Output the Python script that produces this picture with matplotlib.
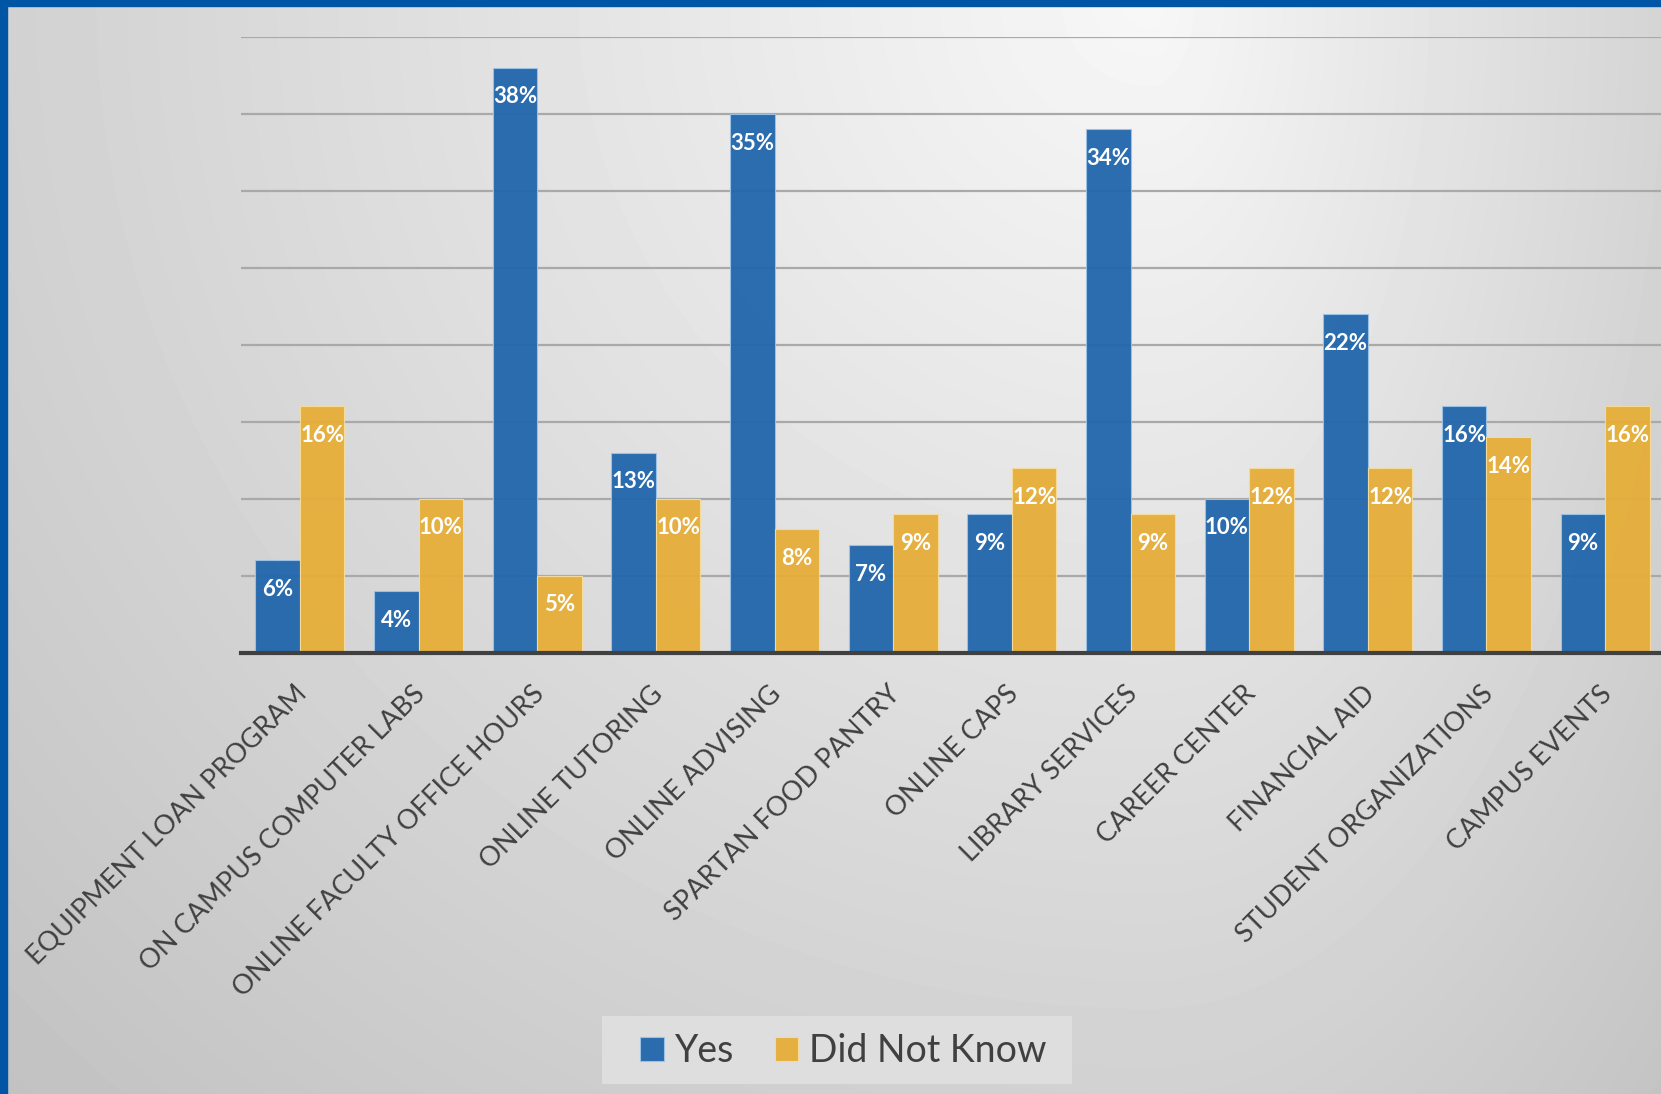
import numpy as np
import matplotlib
matplotlib.use("Agg")
import matplotlib.pyplot as plt
from matplotlib.patches import Rectangle
from matplotlib.transforms import ScaledTranslation

categories = [
    "EQUIPMENT LOAN PROGRAM", "ON CAMPUS COMPUTER LABS", "ONLINE FACULTY OFFICE HOURS",
    "ONLINE TUTORING", "ONLINE ADVISING", "SPARTAN FOOD PANTRY", "ONLINE CAPS",
    "LIBRARY SERVICES", "CAREER CENTER", "FINANCIAL AID", "STUDENT ORGANIZATIONS",
    "CAMPUS EVENTS",
]
yes = [6, 4, 38, 13, 35, 7, 9, 34, 10, 22, 16, 9]
did_not_know = [16, 10, 5, 10, 8, 9, 12, 9, 12, 12, 14, 16]

BLUE = "#2166ac"
GOLD = "#e6ae38"
TEXT = "#404040"

plt.rcParams["font.family"] = ["Lato", "DejaVu Sans"]

W, H = 1661, 1094
fig = plt.figure(figsize=(W / 100, H / 100), dpi=100)

# gradient background, brightest near top right
yy, xx = np.mgrid[0:H, 0:W].astype(float)
cx = 1150.0
dx = np.where(xx < cx, (xx - cx) / 1150.0, (xx - cx) / 560.0)
dy = yy / 1100.0
r = np.sqrt(dx ** 2 + dy ** 2)
shade = np.clip(247 - 38 * r, 188, 255) / 255.0
bg = fig.add_axes([0, 0, 1, 1])
bg.imshow(shade, cmap="gray", vmin=0, vmax=1, aspect="auto", interpolation="bilinear")
bg.axis("off")

# blue frame strips (top and left)
fig.patches.append(Rectangle((0, 1 - 6 / H), 1, 6 / H, transform=fig.transFigure,
                             color="#0055a5", zorder=10))
fig.patches.append(Rectangle((0, 0), 7 / W, 1, transform=fig.transFigure,
                             color="#0055a5", zorder=10))

ax = fig.add_axes([240.5 / W, 1 - 652.6 / H, 1424 / W, (652.6 - 37) / H])
ax.set_facecolor("none")

x = np.arange(len(categories))
bw = 0.375
b1 = ax.bar(x - bw / 2, yes, bw, color=BLUE, alpha=0.95, edgecolor="#9cc3e6",
            linewidth=0.8, label="Yes", zorder=3)
b2 = ax.bar(x + bw / 2, did_not_know, bw, color=GOLD, alpha=0.95, edgecolor="#f6dc9c",
            linewidth=0.8, label="Did Not Know", zorder=3)

for bars, vals in [(b1, yes), (b2, did_not_know)]:
    for b, v in zip(bars, vals):
        ax.annotate(f"{v}%", (b.get_x() + b.get_width() / 2, v), xytext=(0, -21),
                    textcoords="offset points", ha="center", va="center",
                    color="white", fontsize=16, fontweight="bold", zorder=5)

ax.set_xlim(-0.5, len(categories) - 0.5)
ax.set_ylim(0, 40)
ax.set_yticks(np.arange(5, 41, 5))
ax.yaxis.grid(True, color="#a9a9a9", linewidth=1.6, zorder=1)
ax.tick_params(axis="y", length=0, labelleft=False)
ax.set_axisbelow(True)
for s in ["left", "right", "top"]:
    ax.spines[s].set_visible(False)
ax.spines["bottom"].set_color(TEXT)
ax.spines["bottom"].set_linewidth(3)
ax.spines["bottom"].set_zorder(4)

ax.set_xticks(x)
ax.set_xticklabels(categories, rotation=45, ha="right", va="center",
                   rotation_mode="anchor", fontsize=19.5, color=TEXT)
ax.tick_params(axis="x", length=0, pad=27)
shift = ScaledTranslation(0.03, 0, fig.dpi_scale_trans)
for lab in ax.get_xticklabels():
    lab.set_transform(lab.get_transform() + shift)

# legend box drawn separately so its padding matches
fig.patches.append(Rectangle((602 / W, 1 - 1084 / H), 470 / W, 68 / H,
                             transform=fig.transFigure, facecolor="#dedede",
                             edgecolor="none", zorder=5))
leg = fig.legend(handles=[b1, b2], loc="center", bbox_to_anchor=(843.5 / W, 1 - 1051 / H),
                 ncol=2, fontsize=27, frameon=False,
                 handlelength=0.63, handleheight=0.63, handletextpad=0.29,
                 columnspacing=1.09, borderpad=0.2, labelcolor=TEXT)
leg.set_zorder(6)

fig.savefig("out.png", dpi=100)
